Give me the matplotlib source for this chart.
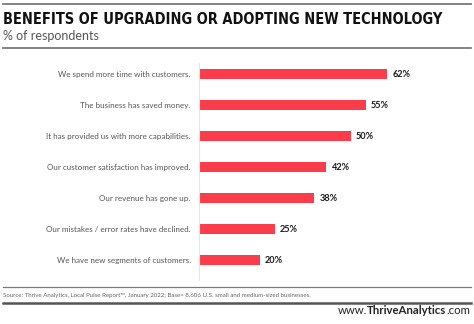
import matplotlib
matplotlib.use("Agg")
import matplotlib.pyplot as plt
from matplotlib.lines import Line2D

categories = [
    "We spend more time with customers.",
    "The business has saved money.",
    "It has provided us with more capabilities.",
    "Our customer satisfaction has improved.",
    "Our revenue has gone up.",
    "Our mistakes / error rates have declined.",
    "We have new segments of customers.",
]
values = [62, 55, 50, 42, 38, 25, 20]

title = "BENEFITS OF UPGRADING OR ADOPTING NEW TECHNOLOGY"
subtitle = "% of respondents"
source = ("Source: Thrive Analytics, Local Pulse Report\u2122, January 2022; "
          "Base= 8,606 U.S. small and medium-sized businesses.")

W, H = 474, 324
red = "#fb3c4a"
fig = plt.figure(figsize=(W / 100, H / 100), dpi=100)
r = fig.canvas.get_renderer()


def fx(px):
    return px / W


def fy(py):
    return 1 - py / H


# axes: left edge at x=199, top at 63, bottom at 280
ax = fig.add_axes([fx(199), fy(280), fx(472) - fx(199), fy(63) - fy(280)])
ypos = list(range(len(values)))[::-1]
ax.barh(ypos, values, height=0.33, color=red)
ax.set_xlim(0, 90)
ax.set_ylim(-0.645, 6.355)
for s in ["top", "right", "bottom"]:
    ax.spines[s].set_visible(False)
ax.spines["left"].set_color("#e6e6e6")
ax.spines["left"].set_linewidth(0.8)
ax.set_xticks([])
ax.set_yticks(ypos)
ax.set_yticklabels(categories, fontsize=5.8, color="#555555", family="Lato")
ax.tick_params(axis="y", length=0, pad=6)
for y, v in zip(ypos, values):
    ax.text(v + 1.7, y, f"{v}%", va="center", ha="left", fontsize=6.6,
            fontweight="bold", color="#1a1a1a", family="Lato")

# header
fig.add_artist(Line2D([fx(3), fx(471)], [fy(4), fy(4)], color="#7a7a7a", lw=1.3))
t_title = fig.text(fx(3), fy(19), title, fontsize=12.5, fontweight="bold",
                   color="#111111", va="center", ha="left",
                   family="DejaVu Sans", fontstretch="condensed")
# shrink the title so it spans the same width as in the reference (~437 px)
tw = t_title.get_window_extent(r).width
t_title.set_fontsize(12.5 * 437 / tw)
fig.text(fx(3), fy(36), subtitle, fontsize=9.0, color="#555555",
         va="center", ha="left", family="Lato")
fig.add_artist(Line2D([fx(3), fx(471)], [fy(48), fy(48)], color="#7a7a7a", lw=1.3))

# footer
fig.add_artist(Line2D([fx(3), fx(471)], [fy(287), fy(287)], color="#7a7a7a", lw=0.9))
fig.text(fx(3), fy(296), source, fontsize=4.45, color="#666666",
         va="center", ha="left", family="Lato")
fig.add_artist(Line2D([fx(3), fx(471)], [fy(302.5), fy(302.5)], color="#555555", lw=1.8))

# url right-aligned, with bold middle part
parts = [("www.", "normal"), ("ThriveAnalytics", "bold"), (".com", "normal")]
x_right = 470
texts = []
for s, w in parts:
    t = fig.text(0, fy(311), s, fontsize=8.2, fontweight=w, color="#222222",
                 va="center", ha="left", family="Lato")
    texts.append(t)
widths = [t.get_window_extent(r).width for t in texts]
x = x_right - sum(widths)
for t, w in zip(texts, widths):
    t.set_x(fx(x))
    x += w

fig.savefig("out.png", dpi=100)
